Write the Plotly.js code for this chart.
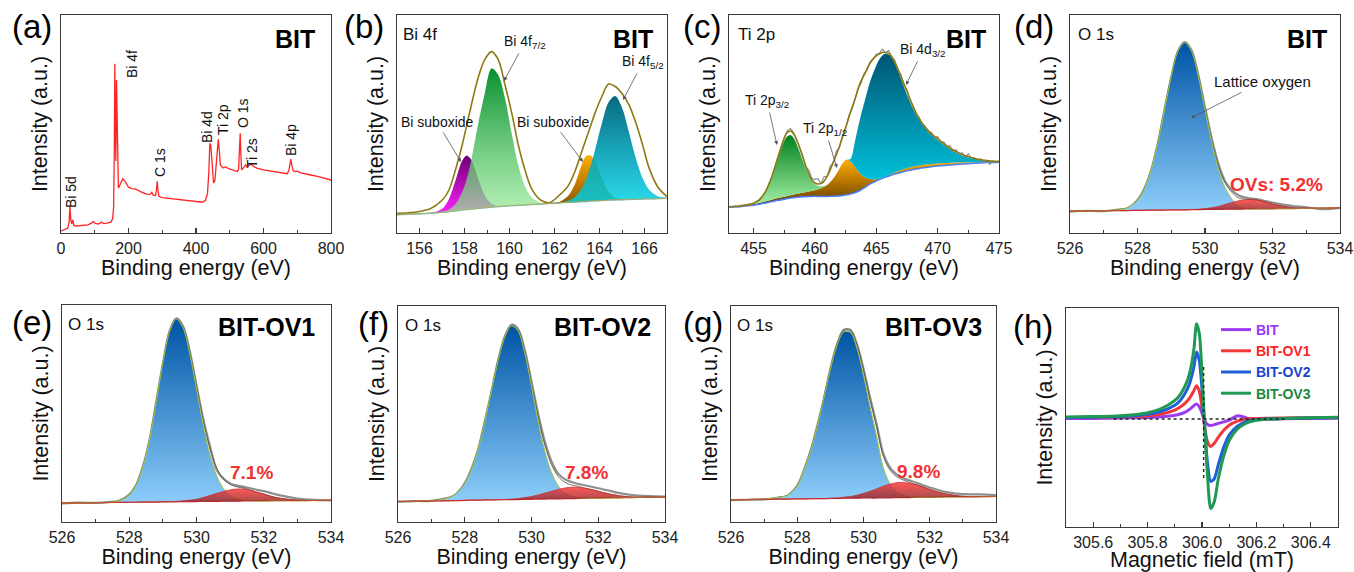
<!DOCTYPE html>
<html><head><meta charset="utf-8">
<script src="https://cdn.plot.ly/plotly-3.0.1.min.js"></script>
<style>html,body{margin:0;padding:0;background:#fff}#chart{width:1354px;height:572px}</style>
</head><body><div id="chart"></div>
<script>
// ================= DATA =================
// (a) XPS survey
const surveyE = [0,10,20,24,26.5,29,32,35,38,45,60,80,90,96,102,110,120,128,140,148,153,156,158,159.5,161,162.5,164.5,166.5,168,170,175,183,190,200,210,220,240,260,266,269,273,280,283,285,287,290,300,320,350,380,400,420,428,434,438,441,444,447,452,456,460,463,466,469,472,480,488,495,505,515,522,526,529,531,533,535,540,547,552,557,563,570,580,600,620,640,660,670,675,678,681,684,688,695,700,710,720,740,760,780,800];
const surveyI = [0.8,1.5,2.3,5,12.2,6,4.2,6,3.5,3.2,3.4,3.7,4.5,5.3,4.4,4.1,4.9,4.3,4.6,5.0,6.5,12,40,77.6,50,33,70.2,45,26,20.6,22.1,24.9,23.7,21,20.4,20.2,18.6,17.6,18.0,18.6,17.4,17.2,20,23.7,20,16.8,16.2,15.8,15.3,14.6,14.2,14.1,15,18,28,41.2,40,33.6,23,24,31,36,43,38,31.3,29.8,30.4,29.6,29.0,28.6,28.2,29,38,45.8,36,29,29.8,31.3,30.2,30.8,31.6,30.6,29.8,29.0,28.5,27.8,27.4,27.2,28.5,31,33.9,31,28.6,28.2,28.4,27.6,27.2,26.6,26.0,25.2,24.3];
const surveyLabels = ['Bi 5d','Bi 4f','C 1s','Bi 4d','Ti 2p','O 1s','Ti 2s','Bi 4p'];

// (b) Bi 4f
const bE    = [155,155.5,156,156.5,157,157.3,157.6,157.9,158.1,158.3,158.6,158.9,159.2,159.5,159.8,160.1,160.4,160.7,161,161.4,161.8,162.2,162.6,162.9,163.2,163.4,163.6,163.8,164.1,164.4,164.7,165,165.3,165.6,165.9,166.2,166.6,167];
const bBase = [8.4,8.6,8.8,9.1,9.5,9.8,10.2,10.6,10.8,11.0,11.3,11.6,11.9,12.1,12.4,12.6,12.7,12.9,13.1,13.3,13.6,13.8,14.1,14.2,14.4,14.5,14.7,14.8,14.9,15.1,15.2,15.3,15.4,15.5,15.6,15.7,15.8,15.9];
const bSub1 = [8.4,8.6,8.8,9.2,11.0,15.4,24.1,33.2,35.6,33.6,25.2,17.2,13.4,12.4,12.5,12.6,12.7,12.9,13.1,13.3,13.6,13.8,14.1,14.2,14.4,14.5,14.7,14.8,14.9,15.1,15.2,15.3,15.4,15.5,15.6,15.7,15.8,15.9];
const bF72  = [8.4,8.6,8.8,9.1,9.75,10.75,13.3,18.8,24.9,33.4,49.7,64.0,75.5,72.5,61.8,45.4,30.7,21.1,16.2,13.9,13.7,13.8,14.1,14.2,14.4,14.5,14.7,14.8,14.9,15.1,15.2,15.3,15.4,15.5,15.6,15.7,15.8,15.9];
const bSub2 = [8.4,8.6,8.8,9.1,9.5,9.8,10.2,10.6,10.8,11.0,11.3,11.6,11.9,12.1,12.4,12.6,12.7,12.9,13.1,13.3,13.6,14.2,17.0,22.3,31.0,35.2,35.6,33.0,25.5,19.0,16.0,15.5,15.4,15.5,15.6,15.7,15.8,15.9];
const bF52  = [8.4,8.6,8.8,9.1,9.5,9.8,10.2,10.6,10.8,11.0,11.3,11.6,11.9,12.1,12.4,12.6,12.7,12.9,13.1,13.3,13.6,13.8,14.8,16.4,20.2,24.5,30.6,38.0,50.1,59.9,62.8,57.5,46.6,34.9,25.6,20.0,16.9,16.1];
const bEnv  = [9.0,9.3,9.9,11.2,15.0,19.5,29.0,40.5,49.5,58.5,71.0,79.5,83.2,79.5,68.0,55.0,40.0,28.5,20.0,15.0,14.0,17.2,21.5,28.0,37.0,43.0,49.0,55.0,62.5,68.3,67.2,64.0,59.0,51.0,41.0,30.0,21.0,16.7];

// (c) Ti 2p
const cE    = [453,454,455,455.5,456,456.5,457,457.4,457.7,458,458.3,458.6,459,459.4,459.8,460.2,460.6,461,461.5,462,462.3,462.6,462.9,463.3,463.7,464.1,464.5,464.9,465.3,465.7,466.1,466.5,467,467.5,468,468.5,469,469.5,470,471,472,473,474,475];
const cBase = [11.9,12.2,12.7,13.2,13.8,14.4,15.0,15.4,15.7,16.0,16.2,16.4,16.6,16.7,16.8,16.8,16.8,16.8,16.9,17.0,17.2,17.5,17.9,18.6,19.6,21.0,22.5,23.6,24.6,25.5,26.3,27.0,27.8,28.5,29.1,29.6,30.0,30.4,30.7,31.2,31.6,32.0,32.3,32.5];
const cP12  = [12.0,12.5,13.3,13.9,14.6,15.3,16.0,16.5,16.9,17.3,17.7,18.0,18.5,18.9,19.4,20.0,20.8,22.0,25.0,29.5,32.3,33.6,32.8,30.0,27.2,25.5,24.8,24.6,25.0,25.8,26.8,27.8,28.9,29.8,30.5,31.0,31.4,31.7,31.9,32.2,32.4,32.5,32.6,32.7];
const cP32  = [12.0,12.5,13.6,15.2,18.8,25.2,34.1,40.8,44.0,44.9,43.2,39.4,33.2,27.4,23.6,21.7,21.4,22.2,25.0,29.5,32.3,33.6,32.8,30.0,27.2,25.5,24.8,24.6,25.0,25.8,26.8,27.8,28.9,29.8,30.5,31.0,31.4,31.7,31.9,32.2,32.4,32.5,32.6,32.7];
const cD32  = [12.0,12.5,13.3,13.9,14.6,15.3,16.0,16.5,16.9,17.3,17.7,18.0,18.5,18.9,19.4,20.0,20.8,22.0,25.0,29.5,32.3,33.6,34.0,43.0,53.0,61.5,69.5,75.5,80.0,82.2,81.5,78.0,71.0,63.5,57.0,52.0,48.0,45.0,42.7,38.5,35.6,34.0,33.1,32.8];
const cEnv  = [12.0,12.5,13.6,15.4,19.3,26.0,35.0,42.0,45.8,46.8,45.2,41.5,35.0,28.5,24.0,22.5,23.0,26.0,32.5,39.7,45.0,50.0,55.5,62.0,69.0,73.5,78.0,80.8,82.3,82.9,82.0,78.5,72.0,65.0,58.0,52.5,48.5,45.5,43.2,39.0,36.0,34.2,33.2,32.8];
const cRawE = [453,453.25,453.5,453.75,454,454.25,454.5,454.75,455,455.25,455.5,455.75,456,456.25,456.5,456.75,457,457.25,457.5,457.75,458,458.25,458.5,458.75,459,459.25,459.5,459.75,460,460.25,460.5,460.75,461,461.25,461.5,461.75,462,462.25,462.5,462.75,463,463.25,463.5,463.75,464,464.25,464.5,464.75,465,465.25,465.5,465.75,466,466.25,466.5,466.75,467,467.25,467.5,467.75,468,468.25,468.5,468.75,469,469.25,469.5,469.75,470,470.25,470.5,470.75,471,471.25,471.5,471.75,472,472.25,472.5,472.75,473,473.25,473.5,473.75,474,474.25,474.5,474.75,475];
const cRaw  = [12.3,11.6,12.4,11.9,12.8,12.2,13.0,12.6,13.4,14.6,15.0,17.2,19.0,22.4,25.6,30.4,34.6,39.8,43.6,46.9,47.9,46.2,42.9,39.6,35.8,30.4,28.9,25.0,24.6,24.9,22.6,25.8,26.0,30.8,32.0,37.6,39.2,45.0,48.0,53.6,56.4,60.8,66.4,68.5,73.2,74.8,78.6,79.8,82.0,82.4,84.3,82.6,83.8,80.6,79.4,74.6,72.8,67.9,65.8,60.9,58.6,54.2,53.1,49.6,48.9,46.0,46.2,43.5,44.4,41.6,41.8,39.6,40.2,37.3,38.2,36.2,36.8,34.6,36.4,34.2,34.5,33.4,34.1,32.6,33.4,31.5,33.0,32.4,33.1];

// (d)-(g) O 1s
const oE = [526,526.5,527,527.4,527.7,528,528.2,528.4,528.6,528.8,529,529.2,529.4,529.6,529.8,530,530.2,530.4,530.6,530.8,531,531.2,531.4,531.6,531.8,532,532.3,532.6,533,533.5,534];
const dBase = [10.0,10.1,10.2,10.3,10.3,10.4,10.4,10.5,10.5,10.5,10.6,10.6,10.6,10.7,10.7,10.8,10.8,10.8,10.9,10.9,10.9,11.0,11.0,11.1,11.1,11.1,11.2,11.2,11.3,11.4,11.5];
const dLat  = [10.0,10.1,10.2,10.6,11.5,15.0,20.1,28.8,41.2,56.4,71.8,83.3,87.3,83.4,72.0,56.7,41.6,29.1,20.6,15.5,12.1,11.2,11.0,11.1,11.1,11.1,11.2,11.2,11.3,11.4,11.5];
const dOV   = [10.0,10.1,10.2,10.3,10.3,10.4,10.4,10.5,10.5,10.5,10.6,10.6,10.6,10.8,10.9,11.2,11.6,12.2,13.1,14.0,14.8,15.3,15.3,15.0,14.2,13.3,12.3,11.6,11.4,11.4,11.5];
const dEnv  = [10.0,10.1,10.2,10.6,11.5,15.0,20.1,28.8,41.2,56.4,71.8,83.3,87.3,83.5,72.2,57.1,42.4,30.5,22.8,18.6,16.0,15.5,15.3,15.0,14.2,13.3,12.3,11.6,11.4,11.4,11.5];
const dRaw  = [9.8,10.2,10.0,10.7,11.4,15.2,20.3,28.6,41.0,56.6,71.6,83.5,87.6,83.8,72.6,57.8,43.4,31.6,23.6,19.6,17.2,16.2,15.8,15.3,14.6,14.0,13.0,12.4,11.8,10.9,11.5];

const eBase = [8.7,8.8,8.9,9.0,9.0,9.1,9.1,9.2,9.2,9.2,9.3,9.3,9.3,9.4,9.4,9.4,9.5,9.5,9.5,9.6,9.6,9.6,9.7,9.7,9.7,9.7,9.8,9.8,9.8,9.9,10.0];
const eLat  = [8.7,8.8,8.9,9.1,9.7,12.3,16.7,25.0,37.8,55.0,73.3,87.7,93.5,89.5,77.6,61.3,44.9,31.1,21.3,15.4,12.1,10.6,10.1,9.8,9.7,9.7,9.8,9.8,9.8,9.9,10.0];
const eOV   = [8.7,8.8,8.9,9.0,9.0,9.1,9.1,9.2,9.2,9.2,9.3,9.4,9.5,9.75,10.1,10.5,11.3,12.2,13.2,14.1,14.8,15.2,15.2,14.6,13.7,12.9,11.5,10.7,10.1,9.9,10.0];
const eEnv  = [8.7,8.8,8.9,9.1,9.7,12.3,16.7,25.0,37.8,55.0,73.3,87.8,93.7,89.9,78.3,62.4,46.7,33.8,25.0,19.9,17.3,16.2,15.6,14.7,13.7,12.9,11.5,10.7,10.1,9.9,10.0];
const eRaw  = [8.6,8.9,8.8,9.2,9.8,12.6,16.9,25.3,37.6,55.3,73.0,88.0,93.8,90.2,78.8,63.0,47.6,35.0,24.0,20.0,17.8,16.8,16.2,15.5,14.8,14.2,13.0,11.9,10.8,10.2,10.0];

const fBase = [9.5,9.6,9.8,9.8,9.9,10.0,10.1,10.1,10.2,10.2,10.3,10.3,10.4,10.4,10.5,10.5,10.6,10.6,10.7,10.7,10.8,10.8,10.9,10.9,11.0,11.0,11.1,11.2,11.3,11.4,11.5];
const fLat  = [9.5,9.6,9.9,10.6,12.6,17.8,24.3,33.8,46.3,60.6,74.7,85.5,90.8,88.4,78.1,62.8,46.7,32.8,22.9,16.7,13.4,11.8,11.3,11.0,11.0,11.0,11.1,11.2,11.3,11.4,11.5];
const fOV   = [9.5,9.6,9.8,9.8,9.9,10.0,10.1,10.1,10.2,10.2,10.3,10.4,10.6,10.9,11.3,11.8,12.55,13.4,14.25,15.1,15.75,16.1,16.05,15.6,15.0,14.2,13.1,12.2,11.6,11.45,11.5];
const fEnv  = [9.5,9.6,9.9,10.6,12.6,17.8,24.3,33.8,46.3,60.6,74.7,85.6,91.0,88.9,78.9,64.1,48.7,35.6,26.5,21.1,18.4,17.1,16.5,15.7,15.0,14.2,13.1,12.2,11.6,11.5,11.5];
const fRaw  = [9.4,9.7,9.8,10.8,12.4,18.0,24.6,33.6,46.6,60.4,75.0,85.9,91.3,89.3,79.6,65.0,50.0,37.2,28.0,22.4,19.8,18.5,17.6,17.0,16.3,15.6,14.6,13.5,12.5,12.0,11.8];

const gBase = [10.3,10.4,10.5,10.6,10.6,10.7,10.7,10.8,10.8,10.8,10.9,10.9,11.0,11.0,11.0,11.1,11.1,11.1,11.2,11.2,11.3,11.3,11.3,11.4,11.4,11.4,11.5,11.6,11.6,11.7,11.8];
const gLat  = [10.3,10.4,10.6,11.35,12.3,16.5,23.8,32.6,44.0,57.2,70.7,81.7,88.0,87.8,80.6,68.0,53.3,39.4,25.0,17.7,14.1,12.4,11.7,11.5,11.4,11.4,11.5,11.6,11.6,11.7,11.8];
const gOV   = [10.3,10.4,10.5,10.6,10.6,10.7,10.7,10.8,10.8,10.8,11.0,11.1,11.5,11.8,12.4,13.3,14.2,15.4,16.6,17.5,18.2,18.3,17.9,17.2,16.2,15.1,13.7,12.7,11.9,11.75,11.8];
const gEnv  = [10.3,10.4,10.6,11.35,12.3,16.5,23.8,32.6,44.0,57.2,70.8,81.9,88.5,88.6,82.0,70.2,56.4,43.7,30.4,24.0,21.0,19.4,18.3,17.3,16.2,15.1,13.7,12.7,11.9,11.75,11.8];
const gRaw  = [10.1,10.3,10.5,11.2,12.2,16.8,24.0,32.9,44.3,57.0,71.0,82.3,88.9,89.0,82.5,71.0,57.5,45.0,31.5,25.2,22.0,20.2,19.2,18.2,17.0,16.0,14.6,13.6,12.9,12.8,12.4];

const ovPercent = ['OVs: 5.2%','7.1%','7.8%','9.8%'];
const sampleNames = ['BIT','BIT-OV1','BIT-OV2','BIT-OV3'];

// (h) EPR
const hB    = [305.5,305.6,305.7,305.75,305.8,305.85,305.9,305.92,305.94,305.955,305.97,305.98,305.99,306.0,306.01,306.02,306.032,306.045,306.06,306.08,306.1,306.13,306.15,306.17,306.2,306.25,306.3,306.4,306.5];
const hBIT  = [49.5,49.6,49.8,49.9,50.0,50.3,51.0,51.6,52.6,53.8,55.4,56.2,55.0,52.0,48.6,46.8,46.3,46.7,47.3,48.0,48.8,50.8,50.4,49.6,49.3,49.3,49.4,49.6,49.7];
const hOV1  = [50.0,50.0,50.2,50.4,50.8,51.6,53.4,54.8,56.8,59.0,62.2,64.5,62.0,55.0,45.5,39.0,36.8,38.2,41.0,44.2,46.5,48.3,49.0,49.4,49.6,49.7,49.8,49.9,50.0];
const hOV2  = [50.0,50.1,50.4,50.8,51.5,52.8,55.6,57.8,61.5,65.8,73.0,79.9,76.0,63.0,45.0,29.5,20.8,22.0,28.5,36.5,42.0,46.0,47.5,48.4,49.0,49.4,49.6,49.8,50.0];
const hOV3  = [50.2,50.4,50.8,51.3,52.2,54.0,57.8,60.5,65.0,70.5,81.0,92.8,88.5,70.0,46.0,24.0,8.4,11.5,22.0,32.5,39.5,44.8,46.6,47.8,48.7,49.3,49.6,49.9,50.1];
const hRefX = [305.675,306.31], hRefY = [49.3,49.3];
const vRefX = [306.006,306.006], vRefY = [22.4,73.4];

// ================= LAYOUT / STYLE =================
const W = 1354, H = 572;
const FONT = 'Arial, "Liberation Sans", sans-serif';
const BOX = {a:[61,331,15,233], b:[397,667,15,233], c:[729,999,15,233], d:[1070,1340,15,233],
             e:[62,331,305,522], f:[398,665,306,522], g:[731,996,306,522], h:[1066,1338,308,527]};
const IDX = {a:1,b:2,c:3,d:4,e:5,f:6,g:7,h:8};
const sfx = k => IDX[k] === 1 ? '' : String(IDX[k]);

const layout = {
  width: W, height: H, margin: {l:0, r:0, t:0, b:0},
  paper_bgcolor: '#fff', plot_bgcolor: 'rgba(0,0,0,0)',
  font: {family: FONT, color: '#111'},
  showlegend: true,
  legend: {x: 1216/W, y: 1 - 314/H, xanchor: 'left', yanchor: 'top', bgcolor: 'rgba(0,0,0,0)', traceorder: 'normal',
           font: {family: FONT, size: 14, color: '#111'}, tracegroupgap: 0, itemwidth: 30},
  annotations: []
};
const LINE = '#3a3a3a';
const TF = {family: FONT, size: 21.5, color: '#111'};
function addAxes(k, range, dtick, tick0, minorD, xtitle, fmt) {
  const [x0, x1, y0, y1] = BOX[k], s = sfx(k);
  const base = {showline: true, mirror: true, linecolor: LINE, linewidth: 1.3, showgrid: false, zeroline: false, fixedrange: true};
  layout['xaxis' + s] = Object.assign({}, base, {
    domain: [x0 / W, x1 / W], anchor: 'y' + s, range, dtick, tick0,
    ticks: 'inside', ticklen: 5, tickwidth: 1.2, tickcolor: LINE,
    minor: {ticks: 'inside', ticklen: 3, tickwidth: 1, tickcolor: LINE, dtick: minorD, showgrid: false},
    tickfont: {family: FONT, size: 16, color: '#222'},
    tickformat: fmt || '',
    title: {text: xtitle, font: TF, standoff: 3}
  });
  layout['yaxis' + s] = Object.assign({}, base, {
    domain: [1 - y1 / H, 1 - y0 / H], anchor: 'x' + s, range: [0, 100],
    showticklabels: false, ticks: '',
    title: {text: 'Intensity (a.u.)', font: TF, standoff: 6}
  });
}
const BE = 'Binding energy (eV)';
addAxes('a', [0, 800], 200, 0, 100, BE);
addAxes('b', [155, 167], 2, 156, 1, BE);
addAxes('c', [453, 475], 5, 455, 2.5, BE);
addAxes('d', [526, 534], 2, 526, 1, BE);
addAxes('e', [526, 534], 2, 526, 1, BE);
addAxes('f', [526, 534], 2, 526, 1, BE);
addAxes('g', [526, 534], 2, 526, 1, BE);
addAxes('h', [305.5, 306.5], 0.2, 305.6, 0.1, 'Magnetic field (mT)', '.1f');

const traces = [];
function line(k, x, y, color, width, extra) {
  const s = sfx(k);
  traces.push(Object.assign({type: 'scatter', mode: 'lines', x, y, xaxis: 'x' + s, yaxis: 'y' + s,
    showlegend: false, hoverinfo: 'skip', line: {color, width, shape: 'spline', smoothing: 0.9}}, extra || {}));
}
function area(k, x, y, c0, c1, lineColor, lw) {
  line(k, x, y, lineColor || 'rgba(0,0,0,0)', lw || 0, {fill: 'tonexty',
    fillgradient: {type: 'vertical', colorscale: [[0, c0], [1, c1]]}});
}
const HIDE = 'rgba(0,0,0,0)';

// (a)
line('a', surveyE, surveyI, '#ff2424', 1.3, {line: {color: '#ff2424', width: 1.3, shape: 'linear'}});

// (b)
line('b', bE, bBase, '#3cc8e0', 1.5);
area('b', bE, bSub1, 'rgba(255,30,255,1)', 'rgba(110,0,115,1)');
line('b', bE, bBase, HIDE, 0);
area('b', bE, bF72, 'rgba(150,235,150,0.7)', 'rgba(0,140,40,0.97)');
line('b', bE, bBase, HIDE, 0);
area('b', bE, bSub2, 'rgba(120,70,0,1)', 'rgba(255,172,0,1)');
line('b', bE, bBase, HIDE, 0);
area('b', bE, bF52, 'rgba(0,222,242,0.82)', 'rgba(0,100,122,0.97)');
line('b', bE, bEnv, '#8c7a12', 1.6);
line('b', bE, bBase, '#e0a040', 0.8);

// (c)
line('c', cE, cBase, '#4a7cff', 1.5);
area('c', cE, cP12, 'rgba(95,55,0,1)', 'rgba(255,172,0,1)');
area('c', cE, cP32, 'rgba(160,240,160,0.95)', 'rgba(0,128,30,1)');
line('c', cE, cP12, HIDE, 0);
area('c', cE, cD32, 'rgba(0,215,240,1)', 'rgba(0,85,115,1)');
line('c', cRawE, cRaw, '#8a8a8a', 1.1, {line: {color: '#8a8a8a', width: 1.1, shape: 'linear'}});
line('c', cE, cEnv, '#8c7a12', 1.6);

// (d)-(g)
const oPanels = [['d', dBase, dLat, dOV, dEnv, dRaw], ['e', eBase, eLat, eOV, eEnv, eRaw],
                 ['f', fBase, fLat, fOV, fEnv, fRaw], ['g', gBase, gLat, gOV, gEnv, gRaw]];
oPanels.forEach(([k, base, lat, ov, env, raw]) => {
  line(k, oE, raw, '#8e8e8e', 2.2);
  line(k, oE, env, '#505050', 0.8);
  line(k, oE, base, '#c83030', 1.2);
  area(k, oE, lat, 'rgba(140,205,250,1)', 'rgba(0,84,165,1)', '#a2c83a', 1);
  line(k, oE, base, HIDE, 0);
  area(k, oE, ov, 'rgba(140,30,30,0.8)', 'rgba(255,60,60,0.85)', 'rgba(200,40,40,0.9)', 0.8);
});

// (h)
const hColors = ['#9b3cf0', '#f03838', '#1f5fd8', '#1e9a52'];
const hText = ['#9933ff', '#ff2222', '#1a44cc', '#1a8a3a'];
[hBIT, hOV1, hOV2, hOV3].forEach((y, i) => {
  line('h', hB, y, hColors[i], 3, {showlegend: true,
    name: '<b><span style="color:' + hText[i] + '">' + sampleNames[i] + '</span></b>',
    line: {color: hColors[i], width: 3, shape: 'spline', smoothing: 0.7}});
});
line('h', hRefX, hRefY, '#222', 1.4, {line: {color: '#222', width: 1.4, dash: 'dot'}});
line('h', vRefX, vRefY, '#222', 1.4, {line: {color: '#222', width: 1.4, dash: 'dot'}});

// ================= ANNOTATIONS =================
const A = layout.annotations;
function T(text, x, y, size, opt) {
  A.push(Object.assign({xref: 'paper', yref: 'paper', x: x / W, y: 1 - y / H, xanchor: 'center', yanchor: 'middle',
    text, showarrow: false, font: {family: FONT, size, color: '#111'}}, opt || {}));
}
// text centred at (tx,ty) with an arrow pointing to (hx,hy)
function TA(text, tx, ty, hx, hy, size) {
  A.push({xref: 'paper', yref: 'paper', x: hx / W, y: 1 - hy / H, ax: tx - hx, ay: ty - hy, text,
    font: {family: FONT, size, color: '#111'}, showarrow: true, arrowhead: 2, arrowsize: 1,
    arrowwidth: 0.8, arrowcolor: '#555', standoff: 0, startstandoff: 1});
}
// panel letters
[['(a)',32,27],['(b)',364,27],['(c)',702,27],['(d)',1034,27],['(e)',32,322],['(f)',373,323],['(g)',703,323],['(h)',1033,326]]
  .forEach(([t, x, y]) => T(t, x, y, 33, {font: {family: FONT, size: 33, color: '#000'}}));
// sample names
const bold = (t, x, y) => T('<b>' + t + '</b>', x, y, 25, {font: {family: FONT, size: 25, color: '#000'}});
bold(sampleNames[0], 295, 39); bold(sampleNames[0], 633, 39); bold(sampleNames[0], 966, 39); bold(sampleNames[0], 1307, 39);
bold(sampleNames[1], 266, 327); bold(sampleNames[2], 602, 327); bold(sampleNames[3], 934, 327);
// region labels
T('Bi 4f', 420, 34, 17); T('Ti 2p', 756, 34, 17);
T('O 1s', 1096, 35, 17); T('O 1s', 86, 324, 17); T('O 1s', 423, 325, 17); T('O 1s', 755, 325, 17);
// survey peak labels (rotated)
[[71,192],[132,64],[160,163],[207,127],[223,120],[243,113],[252,153],[291,140]]
  .forEach(([x, y], i) => T(surveyLabels[i], x, y, 14, {textangle: -90}));
// (b) labels
TA('Bi 4f<sub>7/2</sub>', 525, 42, 504, 81, 14);
TA('Bi 4f<sub>5/2</sub>', 643, 62, 623, 100, 14);
TA('Bi suboxide', 437, 122, 461, 162, 14);
TA('Bi suboxide', 553, 122, 583, 162, 14);
// (c) labels
TA('Bi 4d<sub>3/2</sub>', 923, 50, 906, 85, 14);
TA('Ti 2p<sub>3/2</sub>', 767, 101, 777, 145, 14);
TA('Ti 2p<sub>1/2</sub>', 825, 129, 837, 168, 14);
// (d) labels
TA('Lattice oxygen', 1262, 82, 1191, 118, 15);
const red = (t, x, y) => T('<b>' + t + '</b>', x, y, 19, {font: {family: FONT, size: 19, color: '#f03232'}});
red(ovPercent[0], 1276, 184); red(ovPercent[1], 251, 472); red(ovPercent[2], 586, 472); red(ovPercent[3], 918, 471);

Plotly.newPlot('chart', traces, layout, {displayModeBar: false, staticPlot: true});
</script></body></html>
